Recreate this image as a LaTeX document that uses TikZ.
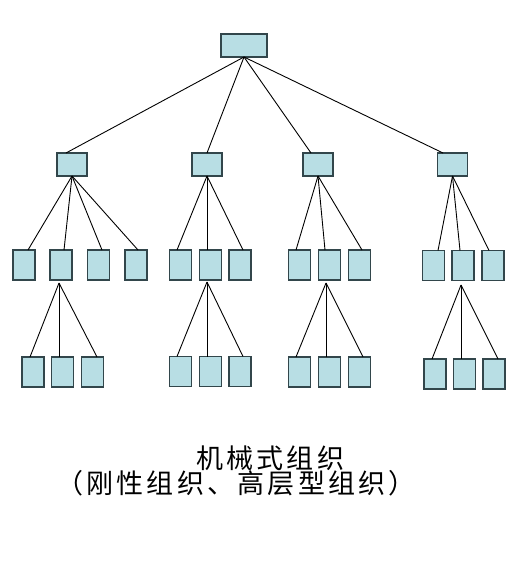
\documentclass[tikz,border=0pt]{standalone}
\usepackage{fontspec}
\newfontfamily\cjk[LetterSpace=12]{Noto Sans CJK SC}
\usetikzlibrary{calc}
\definecolor{boxfill}{RGB}{184,222,228}
\definecolor{boxline}{RGB}{50,70,75}
\tikzset{
  orgbox/.style={draw=boxline,fill=boxfill,line width=1.2pt,inner sep=0pt,outer sep=0pt},
  wide/.style={orgbox,minimum width=30pt,minimum height=23pt},
  tall/.style={orgbox,minimum width=22pt,minimum height=30pt},
  link/.style={draw=black,line width=0.9pt},
  caption/.style={inner sep=0pt,anchor=base west,font=\cjk\fontsize{27pt}{31pt}\selectfont}
}
\begin{document}
\begin{tikzpicture}[x=1pt,y=-1pt]
\useasboundingbox (0,0) rectangle (517,569);
% root
\node[orgbox,minimum width=46pt,minimum height=23pt] (r) at (244,45.5) {};
% level 1
\node[wide] (a) at (72,164.5) {};
\node[wide] (b) at (207,164.5) {};
\node[wide] (c) at (318,164.5) {};
\node[wide] (d) at (452.5,164.5) {};
% level 2
\node[tall] (a1) at (24,265) {};
\node[tall] (a2) at (61,265) {};
\node[tall] (a3) at (98.5,265) {};
\node[tall] (a4) at (136,265) {};
\node[tall] (b1) at (180.5,265) {};
\node[tall] (b2) at (210.5,265) {};
\node[tall] (b3) at (240,265) {};
\node[tall] (c1) at (299.5,265) {};
\node[tall] (c2) at (329.5,265) {};
\node[tall] (c3) at (359.5,265) {};
\node[tall] (d1) at (433.5,265.5) {};
\node[tall] (d2) at (463,265.5) {};
\node[tall] (d3) at (493,265.5) {};
% level 3
\node[tall] (a21) at (33,372) {};
\node[tall] (a22) at (62.5,372) {};
\node[tall] (a23) at (92.5,372) {};
\node[tall] (b21) at (180.5,371.5) {};
\node[tall] (b22) at (210.5,371.5) {};
\node[tall] (b23) at (240,371.5) {};
\node[tall] (c21) at (299.5,372) {};
\node[tall] (c22) at (329.5,372) {};
\node[tall] (c23) at (359.5,372) {};
\node[tall] (d21) at (435,374) {};
\node[tall] (d22) at (464.5,374) {};
\node[tall] (d23) at (494,374) {};
% root connectors
\draw[link] (r.south) -- ($(a.north)+(-6,0)$);
\draw[link] (r.south) -- (b.north);
\draw[link] (r.south) -- ($(c.north)+(-7,0)$);
\draw[link] (r.south) -- ($(d.north)+(-9.5,0)$);
% level 1 -> level 2
\draw[link] (a.south) -- ($(a1.north)+(4,0)$);
\draw[link] (a.south) -- ($(a2.north)+(3,0)$);
\draw[link] (a.south) -- ($(a3.north)+(3.5,0)$);
\draw[link] (a.south) -- ($(a4.north)+(2,0)$);
\draw[link] (b.south) -- ($(b1.north)+(-3.5,0)$);
\draw[link] (b.south) -- ($(b2.north)+(-3.5,0)$);
\draw[link] (b.south) -- ($(b3.north)+(3,0)$);
\draw[link] (c.south) -- ($(c1.north)+(-3.5,0)$);
\draw[link] (c.south) -- ($(c2.north)+(-4.5,0)$);
\draw[link] (c.south) -- ($(c3.north)+(2.5,0)$);
\draw[link] (d.south) -- ($(d1.north)+(4.5,0)$);
\draw[link] (d.south) -- ($(d2.north)+(-3,0)$);
\draw[link] (d.south) -- ($(d3.north)+(-4,0)$);
% level 2 -> level 3
\draw[link] ($(a2.south)+(-2,3)$) -- ($(a21.north)+(-3,0)$);
\draw[link] ($(a2.south)+(-2,3)$) -- ($(a22.north)+(-3.5,0)$);
\draw[link] ($(a2.south)+(-2,3)$) -- ($(a23.north)+(4.5,0)$);
\draw[link] ($(b2.south)+(-3.5,2)$) -- ($(b21.north)+(-3.5,0)$);
\draw[link] ($(b2.south)+(-3.5,2)$) -- ($(b22.north)+(-3.5,0)$);
\draw[link] ($(b2.south)+(-3.5,2)$) -- ($(b23.north)+(3,0)$);
\draw[link] ($(c2.south)+(-3.5,3)$) -- ($(c21.north)+(-3.5,0)$);
\draw[link] ($(c2.south)+(-3.5,3)$) -- ($(c22.north)+(-3.5,0)$);
\draw[link] ($(c2.south)+(-3.5,3)$) -- ($(c23.north)+(3.5,0)$);
\draw[link] ($(d2.south)+(-2,4.5)$) -- ($(d21.north)+(-3,0)$);
\draw[link] ($(d2.south)+(-2,4.5)$) -- ($(d22.north)+(-3.5,0)$);
\draw[link] ($(d2.south)+(-2,4.5)$) -- ($(d23.north)+(4,0)$);
% captions
\node[caption] (t1) at (196,468) {机械式组织};
\node[caption] (t2) at (56,493) {（刚性组织、高层型组织）};
\end{tikzpicture}
\end{document}
